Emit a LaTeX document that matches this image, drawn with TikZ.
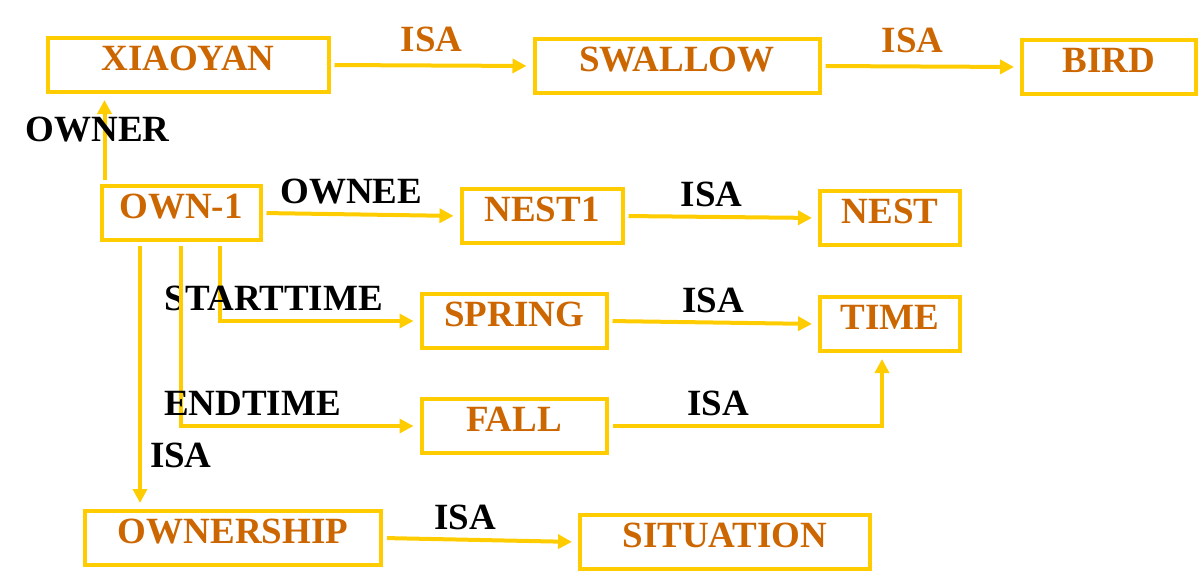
\documentclass[tikz,border=0pt]{standalone}
\usepackage{fontspec}
\setmainfont{Liberation Serif}
\usepackage{tikz}
\usetikzlibrary{arrows.meta}
\definecolor{conceptcol}{HTML}{CC6600}
\definecolor{linkcol}{HTML}{FFCC00}

\begin{document}
\begin{tikzpicture}[
   x=1pt,y=-1pt,
   font=\fontsize{37}{40}\selectfont\bfseries,
   concept/.style={draw=linkcol,line width=4pt,text=conceptcol,minimum height=54pt,text height=25pt,text depth=14pt,inner sep=2pt},
   to/.style={-{Triangle[length=14pt,width=14pt]},line width=4pt,draw=linkcol,shorten >=6pt,shorten <=4pt},
   rel/.style={above,inner sep=8pt,text=black},
   isa/.style={above,inner sep=12pt,text=conceptcol}]
\useasboundingbox (0,0) rectangle (1201,581);
\node[concept,minimum width=281pt] (xiaoyan) at (188,65) {XIAOYAN};
\node[concept,minimum width=285pt] (swallow) at (677,66) {SWALLOW};
\node[concept,minimum width=174pt] (bird) at (1109,67) {BIRD};
\node[concept,minimum width=159pt] (own1) at (181,213) {OWN-1};
\node[concept,minimum width=161pt] (nest1) at (542,216) {NEST1};
\node[concept,minimum width=140pt] (nest) at (890,218) {NEST};
\node[concept,minimum width=185pt] (spring) at (514,321) {SPRING};
\node[concept,minimum width=140pt] (time) at (890,324) {TIME};
\node[concept,minimum width=185pt] (fall) at (514,426) {FALL};
\node[concept,minimum width=296pt] (ownership) at (233,538) {OWNERSHIP};
\node[concept,minimum width=290pt] (situation) at (725,542) {SITUATION};
% top row
\draw[to]  (xiaoyan.east) to node[isa] {ISA} (swallow.west);
\draw[to]  (swallow.east) to node[isa,pos=0.46] {ISA} (bird.west);
% slots of OWN-1
\draw[to]  ([xshift=5pt]own1.north west) to node[pos=0.6,xshift=-7pt,text=black] {OWNER} ([xshift=5pt]own1.north west |- xiaoyan.south);
\draw[to]  (own1.east) to node[rel,pos=0.45] {OWNEE} (nest1.west);
\draw[to]  ([xshift=39pt]own1.south) |- node[rel,pos=0.635] {STARTTIME} (spring.west);
\draw[to]  (own1.south) |- node[rel,pos=0.65] {ENDTIME} (fall.west);
\draw[to]  ([xshift=-41pt]own1.south) to node[right,pos=0.8,inner sep=8pt] {ISA} ([xshift=-41pt]own1.south |- ownership.north);
% isa links
\draw[to]  (nest1.east) to node[rel,pos=0.45] {ISA} (nest.west);
\draw[to]  (spring.east) to node[rel] {ISA} (time.west);
\draw[to]  (fall.east) -| node[rel,pos=0.2] {ISA} ([xshift=-8pt]time.south);
\draw[to]  (ownership.east) to node[rel,pos=0.42] {ISA} (situation.west);
\end{tikzpicture}
\end{document}
